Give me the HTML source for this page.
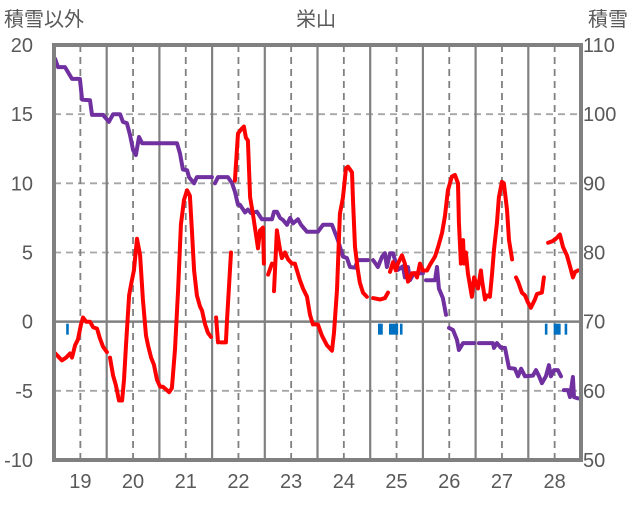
<!DOCTYPE html>
<html><head><meta charset="utf-8"><style>
body{margin:0;background:#fff;}
svg text{font-family:"Liberation Sans","Noto Sans CJK JP",sans-serif;fill:#595959;}
</style></head><body>
<svg id="chart" width="636" height="501" xmlns="http://www.w3.org/2000/svg">
<text x="4" y="26" font-size="20">積雪以外</text>
<text x="316" y="26" font-size="20" text-anchor="middle">栄山</text>
<text x="588" y="26" font-size="20">積雪</text>
<g id="grid"></g><g id="marks"></g><g id="axes"></g>
</svg>
<script>
const dayLabels=["19","20","21","22","23","24","25","26","27","28"];
const leftTicks=[20,15,10,5,0,-5,-10];
const rightTicks=[110,100,90,80,70,60,50];
const tempT=[0,3.6,5.5,7.3,8.2,9.6,10.9,12.3,13.2,14.6,16.4,17.8,19.6,20.9,22.3,24.1,null,
25.5,26.9,28.2,29.6,31,31.9,32.8,34.2,35.1,36.4,37.8,39.2,40.5,41.9,42.8,44.2,45.5,46.9,48.3,49.6,51,52.4,53.7,55.1,56.5,57.8,59.2,60.6,61.9,62.8,63.8,65.1,66.5,67.4,68.8,70.1,71.5,null,
73.8,74.7,null,76,78.3,78.8,80.6,null,
82.4,83.8,85.2,86.5,87.4,88.3,89.3,90.6,92.9,93.8,95.2,95.6,null,97.5,99.3,null,
100.2,101.5,102.9,103.8,105.2,106.6,108.4,109.7,112,113.4,115.2,116.6,117.9,120.2,122,124.3,126.6,127.5,128.9,130.2,131.6,133,133.9,135.7,136.2,137.1,138.4,139.3,140.7,142.5,null,
145.3,148.5,150.7,152.1,null,
153,154.4,155.7,156.6,158.5,159.8,161.2,163,164.4,165.3,166.7,168,169.9,171.2,173.5,174.9,176.7,178,179.4,181.2,182.6,184,184.4,185.3,186.3,186.7,187.6,188.5,190.3,191.3,193.1,194.4,194.9,196.3,197.2,198.5,199.5,200.4,201.7,202.6,204,204.9,206.3,207.2,208.6,null,
210.4,211.3,213.1,214.5,215.8,217.2,219,219.9,222.2,223.1,null,
225,226.8,228.6,230.4,231.8,233.6,235,236.3,237.3,238.6];
const tempV=[-2.2,-2.8,-2.6,-2.3,-2.6,-1.7,-1.3,-0.2,0.3,0,0,-0.4,-0.5,-1.2,-1.8,-2.2,null,
-2.6,-3.9,-4.6,-5.7,-5.7,-4.2,-1.7,1.9,2.7,3.7,6.0,4.8,1.6,-1.0,-1.7,-2.6,-3.1,-4.2,-4.7,-4.7,-4.9,-5.1,-4.8,-2.0,2.3,7.0,8.8,9.5,9.1,6.6,3.7,1.9,1.1,0.8,-0.2,-0.8,-1.1,null,
0.3,-1.5,null,-1.5,-1.5,0.1,5.0,null,
10.2,13.6,13.9,14.1,13.3,13.1,9.0,7.8,5.3,6.6,6.8,4.2,null,3.4,4.2,null,
2.2,6.6,5.2,4.6,5.0,4.5,4.2,4.2,3.0,2.4,1.8,0.5,-0.2,-0.2,-1.0,-1.7,-2.1,-0.8,2.3,7.8,9.0,11.1,11.2,10.8,8.6,5.4,3.7,2.8,2.1,1.8,null,
1.7,1.6,1.7,2.1,null,
3.6,4.3,3.7,4.2,4.8,4.2,2.9,3.5,3.5,3.2,4.2,3.7,3.7,4.1,4.7,5.4,6.4,7.6,9.5,10.5,10.6,10.0,7.2,4.2,5.9,4.2,5.0,3.5,1.8,3.2,2.4,3.7,3.0,1.6,1.9,1.8,3.5,5.2,7.1,9.0,10.1,10.0,8.1,5.9,4.5,null,
3.2,2.9,2.1,1.9,1.4,1.0,1.6,2.0,2.1,3.2,null,
5.7,5.8,6.0,6.3,5.4,4.8,4.0,3.2,3.6,3.7];
const snowT=[0.5,1.8,5,8.2,11.8,12.8,16.4,17.3,22.3,25,26.9,30.1,31.4,33.2,34.6,36,37.3,38.7,40.1,56,57.4,58.7,60.6,61.5,63.8,65.1,71.9,null,
73.3,74.7,79.2,81.1,82.4,83.8,84.7,87,88.3,89.7,92.4,94.7,99.3,100.2,101.5,102.9,104.3,106.1,107.5,108.8,111.1,112.5,115.2,120.2,122.5,126.6,129.3,131.6,133.4,134.8,137.1,138.4,143,null,
145.3,147.5,149.4,150.7,151.6,153,154.4,156.6,158.9,159.8,161.2,162.1,163.9,168,null,
169.4,173.5,174.4,175.3,177.1,178.5,null,
179.9,181.7,183.5,184.4,186.3,191.3,null,
193.5,199.9,200.4,201.7,203.6,205.4,207.2,209.9,211.3,212.7,214.5,218.1,219.5,220.9,222.2,224,225.4,226.3,227.7,229.5,230.9,null,
232.2,234.1,235,236.3,236.8,238.6];
const snowV=[108,106.8,106.8,105.1,105.1,102.1,102,99.9,99.9,98.9,100,100,98.9,98.7,97,94.8,94.1,96.7,95.8,95.8,94.3,92,91.9,90.9,90,90.9,90.9,null,
90,90.9,90.9,90,88.8,86.9,86.9,85.8,86.2,85.7,85.9,84.8,84.8,85.9,85.9,85,84.7,84,85,84.2,84.8,84,83,83,84,84,81.8,79.4,79.2,77.9,77.8,78.9,78.9,null,
78.9,77.9,79.4,79.9,77.9,79.9,79.9,77.5,78,76.4,77.9,76,77,77,null,
76,76,77.9,74.8,73.4,71,null,
69.1,68.8,67.4,65.9,66.9,66.9,null,
66.9,66.9,66.2,66.9,66.2,66.2,63.3,63.2,62.1,63.2,62.1,62.2,63,62.1,61.1,62.1,63.7,62.1,63,63,62.1,null,
60.1,60.1,59.1,62,59.1,58.9];
const precipT=[6,148,149,153,154,155,156,158,224,228,229,230,233];
const precipV=[1,1,1,1,1,1,1,1,1,1,1,1,1];

const L=54,R=581,T=45,B=460;
const xS=h=>L+h*(R-L)/240;
const yL=v=>T+(20-v)*(B-T)/30;
const yR=v=>T+(110-v)*(B-T)/60;
const NS="http://www.w3.org/2000/svg";
function mk(tag,attrs,parent){const e=document.createElementNS(NS,tag);for(const k in attrs)e.setAttribute(k,attrs[k]);parent.appendChild(e);return e;}
const grid=document.getElementById('grid'),marks=document.getElementById('marks'),axes=document.getElementById('axes');
leftTicks.forEach((v,i)=>{
  const y=yL(v);
  if(v!==20&&v!==-10){const g=mk('line',{x1:L,x2:R,y1:y,y2:y,stroke:v===0?'#808080':'#a6a6a6','stroke-width':v===0?2.5:1.8,'stroke-dasharray':v===0?'none':'7,5'},grid);
  
  }
  const t=mk('text',{x:33,y:y+7,'font-size':20,'text-anchor':'end'},axes);t.textContent=v;
  
  
  const r=mk('text',{x:583,y:yR(rightTicks[i])+7,'font-size':20},axes);r.textContent=rightTicks[i];
  
  
});
dayLabels.forEach((d,i)=>{
  const xd=xS(12+24*i);
  const g=mk('line',{x1:xd,x2:xd,y1:T,y2:B,stroke:'#808080','stroke-width':1.8,'stroke-dasharray':'7,5'},grid);
  
  
  if(i>0){const xm=xS(24*i);const s=mk('line',{x1:xm,x2:xm,y1:T,y2:B,stroke:'#808080','stroke-width':2.2},grid);
  
  }
  const t=mk('text',{x:xd,y:488,'font-size':20,'text-anchor':'middle'},axes);t.textContent=d;
  
  
});
const border=mk('rect',{x:L,y:T,width:R-L,height:B-T,fill:'none',stroke:'#808080','stroke-width':4},axes);


precipT.forEach((h,i)=>{
  const b=mk('rect',{x:xS(h)-1,y:yL(0)+2,width:2.6,height:precipV[i]*11,fill:'#0070c0'},marks);
  
  
});
function path(ts,vs,ys){let d='',pen=false;ts.forEach((t,i)=>{if(t===null||vs[i]===null){pen=false;return;}d+=(pen?'L':'M')+xS(t).toFixed(1)+','+ys(vs[i]).toFixed(1);pen=true;});return d;}
const sp=mk('path',{d:path(snowT,snowV,yR),fill:'none',stroke:'#7030a0','stroke-width':4,'stroke-linejoin':'round','stroke-linecap':'round'},marks);


const tp=mk('path',{d:path(tempT,tempV,yL),fill:'none',stroke:'#ff0000','stroke-width':4,'stroke-linejoin':'round','stroke-linecap':'round'},marks);


</script>
</body></html>
